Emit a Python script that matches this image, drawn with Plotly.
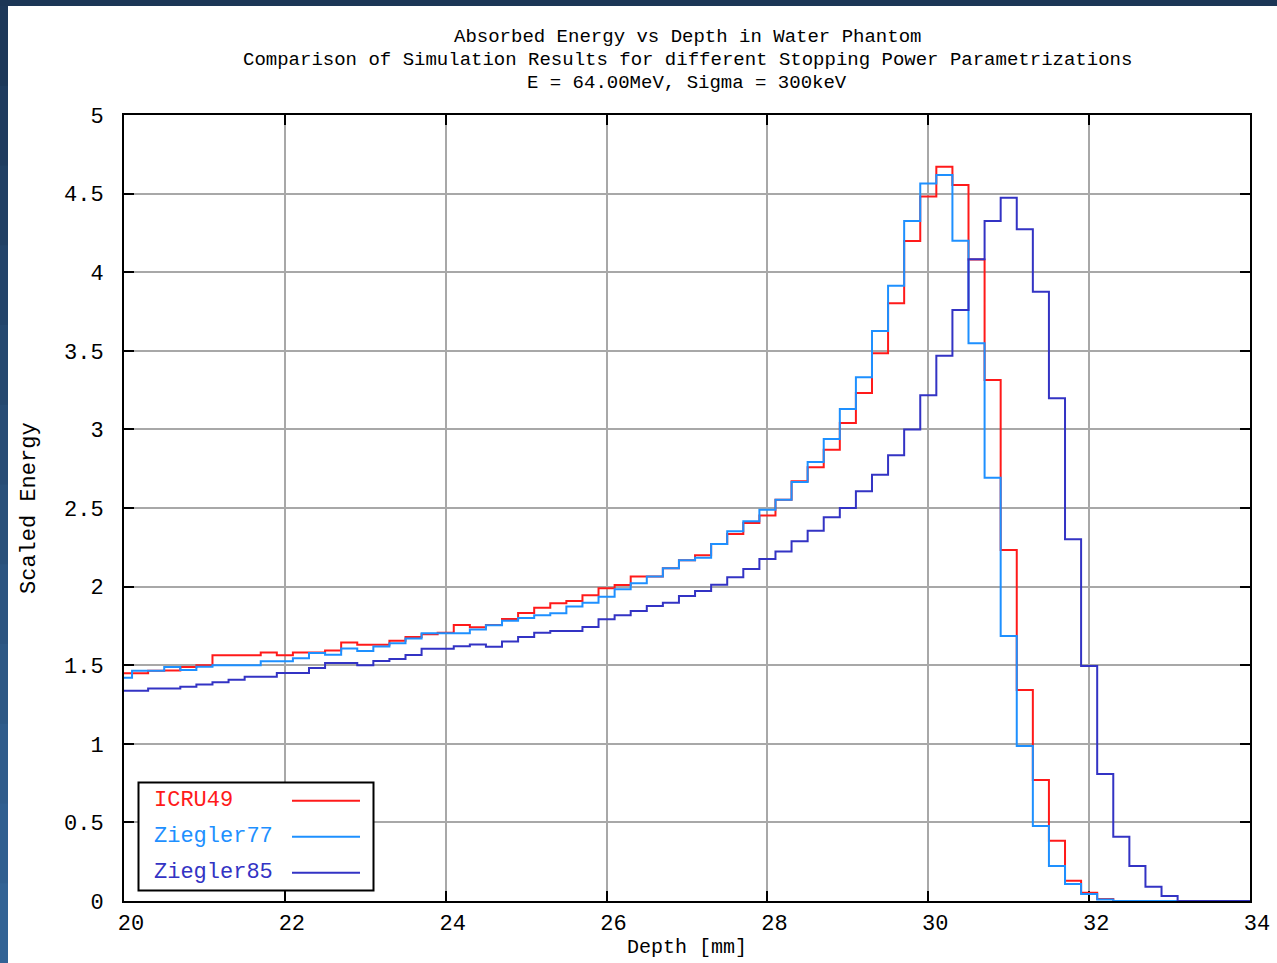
import plotly.graph_objects as go

depth = [20.0, 20.2, 20.4, 20.6, 20.8, 21.0, 21.2, 21.4, 21.6, 21.8,
         22.0, 22.2, 22.4, 22.6, 22.8, 23.0, 23.2, 23.4, 23.6, 23.8,
         24.0, 24.2, 24.4, 24.6, 24.8, 25.0, 25.2, 25.4, 25.6, 25.8,
         26.0, 26.2, 26.4, 26.6, 26.8, 27.0, 27.2, 27.4, 27.6, 27.8,
         28.0, 28.2, 28.4, 28.6, 28.8, 29.0, 29.2, 29.4, 29.6, 29.8,
         30.0, 30.2, 30.4, 30.6, 30.8, 31.0, 31.2, 31.4, 31.6, 31.8,
         32.0, 32.2, 32.4, 32.6, 32.8, 33.0, 33.2, 33.4, 33.6, 33.8, 34.0]

icru49 = [1.448, 1.448, 1.464, 1.466, 1.488, 1.500, 1.564, 1.564, 1.564, 1.580,
          1.564, 1.580, 1.580, 1.593, 1.644, 1.630, 1.630, 1.655, 1.680, 1.697,
          1.706, 1.756, 1.742, 1.756, 1.794, 1.832, 1.866, 1.894, 1.909, 1.945,
          1.989, 2.010, 2.064, 2.064, 2.117, 2.168, 2.200, 2.271, 2.335, 2.405,
          2.453, 2.553, 2.670, 2.759, 2.871, 3.040, 3.232, 3.484, 3.802, 4.198,
          4.481, 4.671, 4.555, 4.080, 3.314, 2.233, 1.342, 0.770, 0.384, 0.129,
          0.053, 0.013, 0.0, 0.0, 0.0, 0.0, 0.0, 0.0, 0.0, 0.0, 0.0]

ziegler77 = [1.420, 1.464, 1.464, 1.488, 1.470, 1.490, 1.500, 1.500, 1.500, 1.525,
             1.525, 1.545, 1.578, 1.566, 1.606, 1.591, 1.619, 1.640, 1.670, 1.704,
             1.704, 1.704, 1.727, 1.754, 1.782, 1.800, 1.818, 1.830, 1.873, 1.898,
             1.936, 1.983, 2.021, 2.064, 2.117, 2.168, 2.184, 2.271, 2.352, 2.415,
             2.489, 2.553, 2.665, 2.793, 2.939, 3.130, 3.331, 3.626, 3.914, 4.326,
             4.565, 4.618, 4.200, 3.548, 2.693, 1.686, 0.986, 0.477, 0.223, 0.108,
             0.045, 0.010, 0.0, 0.0, 0.0, 0.0, 0.0, 0.0, 0.0, 0.0, 0.0]

ziegler85 = [1.337, 1.337, 1.352, 1.352, 1.363, 1.377, 1.392, 1.408, 1.427, 1.427,
             1.451, 1.451, 1.482, 1.514, 1.514, 1.500, 1.526, 1.540, 1.565, 1.604,
             1.604, 1.620, 1.632, 1.617, 1.650, 1.680, 1.707, 1.718, 1.718, 1.743,
             1.792, 1.818, 1.845, 1.877, 1.898, 1.940, 1.972, 2.012, 2.059, 2.112,
             2.176, 2.224, 2.288, 2.356, 2.441, 2.500, 2.606, 2.712, 2.835, 3.000,
             3.218, 3.469, 3.760, 4.082, 4.326, 4.474, 4.273, 3.876, 3.198, 2.301,
             1.495, 0.808, 0.409, 0.223, 0.091, 0.032, 0.0, 0.0, 0.0, 0.0, 0.0]

series_names = ["ICRU49", "Ziegler77", "Ziegler85"]
series_colors = ["#ff1a1a", "#1e90ff", "#3333c4"]
series_values = [icru49, ziegler77, ziegler85]

x_ticks = [20, 22, 24, 26, 28, 30, 32, 34]
y_ticks = [0, 0.5, 1, 1.5, 2, 2.5, 3, 3.5, 4, 4.5, 5]

title_lines = ["Absorbed Energy vs Depth in Water Phantom",
               "Comparison of Simulation Results for different Stopping Power Parametrizations",
               "E = 64.00MeV, Sigma = 300keV"]
x_title = "Depth [mm]"
y_title = "Scaled Energy"

FONT = "Liberation Mono, DejaVu Sans Mono, monospace"
FS = 22
FS_TITLE = 19

W, H = 1277, 963
L, R, T, B = 124, 1250, 115, 901
PW, PH = R - L, B - T


def px(xp):
    return (xp - L) / PW


def py(yp):
    return (B - yp) / PH


fig = go.Figure()
for name, color, vals in zip(series_names, series_colors, series_values):
    fig.add_trace(go.Scatter(x=depth, y=vals, mode="lines", name=name,
                             line=dict(color=color, width=2, shape="hvh"),
                             showlegend=False))

shapes = []
# dark frame: top band and left gradient band
shapes.append(dict(type="rect", xref="paper", yref="paper", x0=px(-5), x1=px(W + 5),
                   y0=py(6), y1=py(-5), fillcolor="#1c3656", line=dict(width=0), layer="below"))
grad = ["#1d3859", "#1f3c5f", "#214064", "#23446a", "#25486f", "#274c75",
        "#29507a", "#2b5480", "#2d5885", "#2f5c8b", "#305f90", "#326395"]
nseg = len(grad)
for k, c in enumerate(grad):
    y_top = 6 + (H - 6) * k / nseg
    y_bot = 6 + (H - 6) * (k + 1) / nseg + 1
    shapes.append(dict(type="rect", xref="paper", yref="paper", x0=px(-5), x1=px(8),
                       y0=py(y_bot), y1=py(y_top), fillcolor=c, line=dict(width=0), layer="below"))

# legend box (gnuplot style: text left, sample right)
shapes.append(dict(type="rect", xref="paper", yref="paper", x0=px(138.5), x1=px(373.5),
                   y0=py(890.5), y1=py(782.5), fillcolor="white",
                   line=dict(color="black", width=2), layer="above"))
leg_y = [800.7, 836.7, 872.7]
annotations = []
for name, color, yy in zip(series_names, series_colors, leg_y):
    shapes.append(dict(type="line", xref="paper", yref="paper", x0=px(292), x1=px(360),
                       y0=py(yy), y1=py(yy), line=dict(color=color, width=2), layer="above"))
    annotations.append(dict(text=name, xref="paper", yref="paper", x=px(152), y=py(yy),
                            xanchor="left", yanchor="middle", showarrow=False,
                            font=dict(family=FONT, size=FS, color=color)))

title_y = [37, 60, 83]
for line, yy in zip(title_lines, title_y):
    annotations.append(dict(text=line, xref="paper", yref="paper", x=0.5, y=py(yy),
                            xanchor="center", yanchor="middle", showarrow=False,
                            font=dict(family=FONT, size=FS_TITLE, color="black")))
annotations.append(dict(text=x_title, xref="paper", yref="paper", x=0.5, y=py(948),
                        xanchor="center", yanchor="middle", showarrow=False,
                        font=dict(family=FONT, size=20, color="black")))
annotations.append(dict(text=y_title, xref="paper", yref="paper", x=px(29), y=0.5,
                        xanchor="center", yanchor="middle", showarrow=False, textangle=-90,
                        font=dict(family=FONT, size=FS, color="black")))

axis_common = dict(showline=True, linecolor="black", linewidth=2, mirror="ticks",
                   ticks="inside", ticklen=10, tickwidth=2, tickcolor="black",
                   showgrid=True, gridcolor="#a8a8a8", gridwidth=2, zeroline=False,
                   layer="below traces", automargin=False,
                   tickfont=dict(family=FONT, size=FS, color="black"))

fig.update_layout(
    width=W, height=H, autosize=False,
    margin=dict(l=L, r=W - R, t=T, b=H - B, pad=0, autoexpand=False),
    paper_bgcolor="white", plot_bgcolor="white",
    xaxis=dict(range=[20, 34], tickvals=x_ticks, ticktext=[str(v) for v in x_ticks],
               ticklabelstandoff=1, ticklabelshift=7, **axis_common),
    yaxis=dict(range=[0, 5], tickvals=y_ticks, ticktext=[f"{v:g}" for v in y_ticks],
               ticklabelstandoff=14, **axis_common),
    shapes=shapes, annotations=annotations, showlegend=False,
)

fig.write_html("out.html", config={"displayModeBar": False},
               post_script="document.body.style.margin='0';document.body.style.overflow='hidden';")
